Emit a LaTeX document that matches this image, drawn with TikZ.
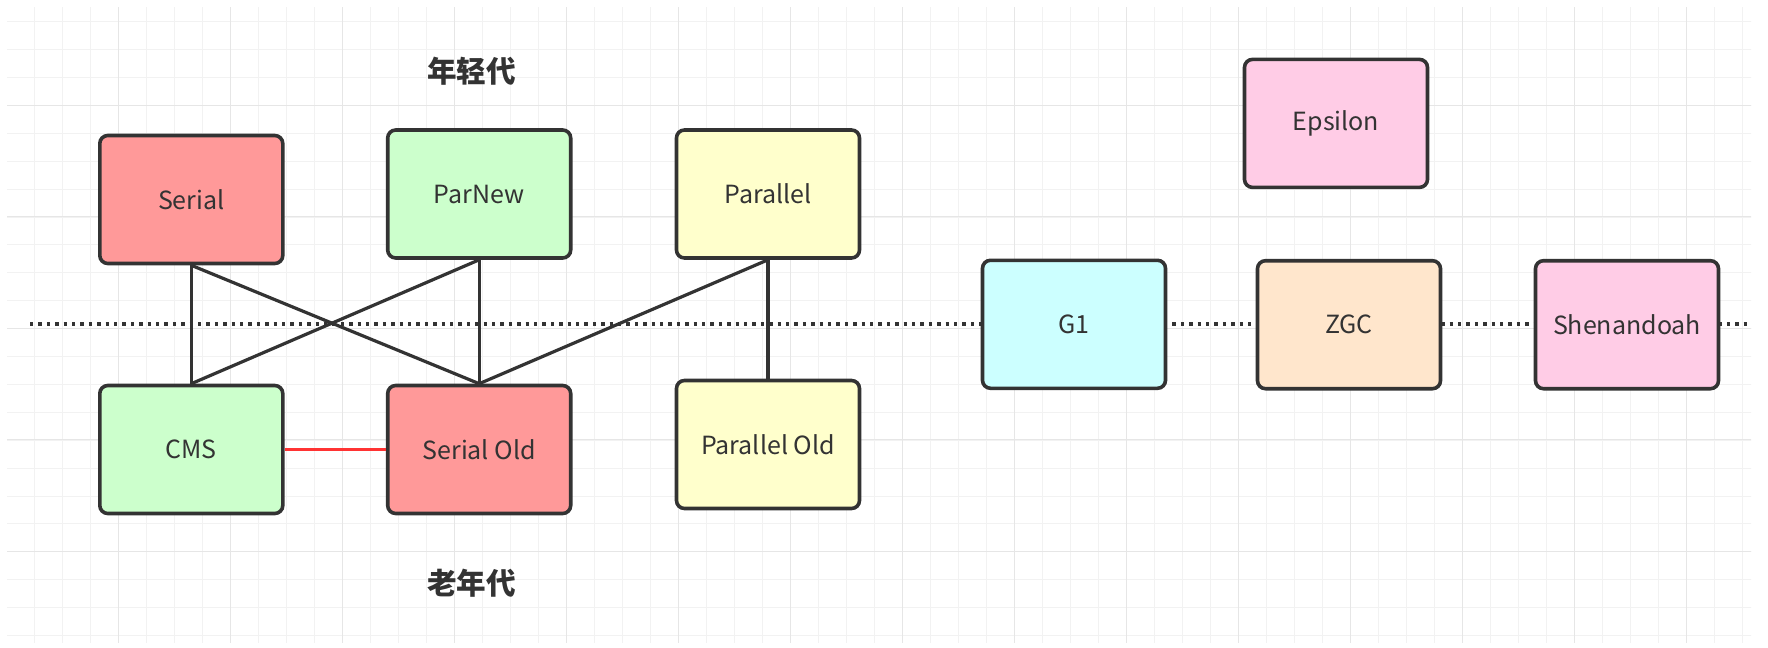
\documentclass[tikz,border=0pt]{standalone}
\usepackage{fontspec}
\setmainfont{Noto Sans CJK SC}
\definecolor{boxline}{HTML}{333333}
\definecolor{txt}{HTML}{333333}
\definecolor{serialred}{HTML}{FF9999}
\definecolor{pargreen}{HTML}{CCFFCC}
\definecolor{paryellow}{HTML}{FFFFCC}
\definecolor{gonecyan}{HTML}{CCFFFF}
\definecolor{zgcorange}{HTML}{FFE6CC}
\definecolor{shenpink}{HTML}{FFCCE6}
\definecolor{linkred}{HTML}{FF3333}
\definecolor{gridminor}{HTML}{F2F2F2}
\definecolor{gridmajor}{HTML}{E6E6E6}
\tikzset{%
  gcbox/.style   = {shape=rectangle, rounded corners=4pt, draw=boxline,%
                    line width=1.8pt, minimum width=91.5pt, minimum height=64pt,%
                    font=\fontsize{12.5}{15}\selectfont, text=txt},%
  gentext/.style = {font=\bfseries\fontsize{14.8}{17}\selectfont, text=txt},%
  link/.style    = {draw=boxline, line width=1.6pt},%
  divider/.style = {draw=boxline, line width=1.6pt, dash pattern=on 1.7pt off 2.5pt}%
}
\begin{document}
\begin{tikzpicture}[x=0.5pt,y=-0.5pt]
\useasboundingbox (0,0) rectangle (1768,648);
	\begin{scope}
	\clip (7,7) rectangle (1751,642);
		\foreach \gx in {6.6,34.6,...,1760}
			\draw[gridminor, line width=0.5pt] (\gx,0) -- (\gx,648);
		\foreach \gy in {21.7,49.6,...,648}
			\draw[gridminor, line width=0.5pt] (0,\gy) -- (1768,\gy);
		\foreach \gx in {6.6,118.6,...,1760}
			\draw[gridmajor, line width=0.5pt] (\gx,0) -- (\gx,648);
		\foreach \gy in {105,216.6,...,648}
			\draw[gridmajor, line width=0.5pt] (0,\gy) -- (1768,\gy);
	\end{scope}
	\coordinate (divl) at (30,324);
	\coordinate (divr) at (1751,324);
	\draw[divider] (divl) -- (divr);
	% young generation
	\node[gcbox, fill=serialred] (serial) at (191.3,199.5) {Serial};
	\node[gcbox, fill=pargreen] (parnew) at (479.2,194) {ParNew};
	\node[gcbox, fill=paryellow] (parallel) at (768,194) {Parallel};
	% old generation
	\node[gcbox, fill=pargreen] (cms) at (191.3,449.5) {CMS};
	\node[gcbox, fill=serialred] (serialold) at (479.2,449.5) {Serial Old};
	\node[gcbox, fill=paryellow] (parallelold) at (768,444.5) {Parallel Old};
	% whole heap
	\node[gcbox, fill=gonecyan] (gone) at (1074,324.3) {G1};
	\node[gcbox, fill=zgcorange] (zgc) at (1349,324.7) {ZGC};
	\node[gcbox, fill=shenpink] (shenandoah) at (1627,324.7) {Shenandoah};
	\node[gcbox, fill=shenpink] (epsilon) at (1336,123.4) {Epsilon};
	\node[gentext] (young) at (471.7,71.7) {年轻代};
	\node[gentext] (old) at (471.7,583.3) {老年代};
	\draw[link] (serial.south) -- (cms.north);
	\draw[link] (serial.south) -- (serialold.north);
	\draw[link] (parnew.south) -- (cms.north);
	\draw[link] (parnew.south) -- (serialold.north);
	\draw[link] (parallel.south) -- (serialold.north);
	\draw[link] (parallel.south) -- (parallelold.north);
	\draw[link, linkred] (cms.east) -- (serialold.west);
\end{tikzpicture}
\end{document}
